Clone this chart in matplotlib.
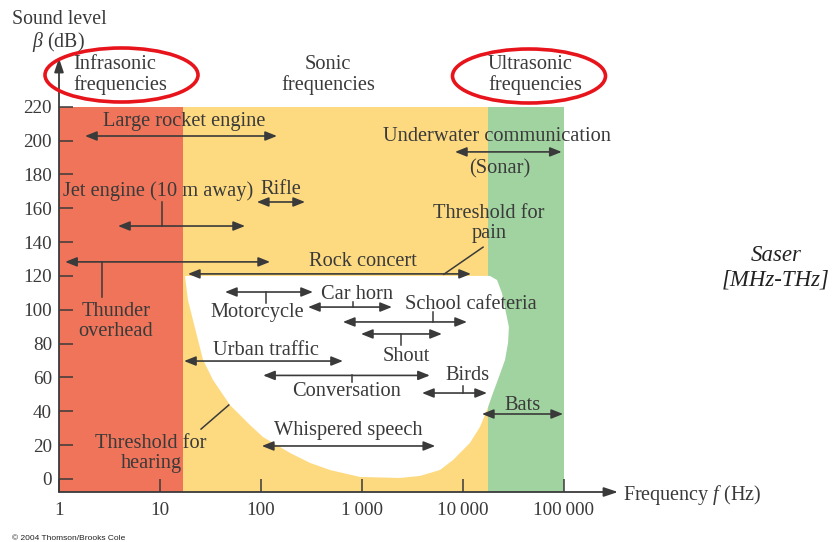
import matplotlib
matplotlib.use('Agg')
import matplotlib.pyplot as plt
from matplotlib.patches import Ellipse

plt.rcParams['font.family'] = ['Liberation Serif', 'DejaVu Serif']
plt.rcParams['mathtext.fontset'] = 'custom'
plt.rcParams['mathtext.rm'] = 'Liberation Serif'
plt.rcParams['mathtext.it'] = 'Liberation Serif:italic'

# frequency bands (Hz) and their colours
band_edges = [1, 17, 17700, 100000]
band_colors = ['#ef7459', '#fdda80', '#a1d3a1']
band_top = 220

# audible area: threshold of hearing (lower) and threshold of pain (top)
aud_f = [17.7, 18.9, 21.2, 26.7, 33.5, 49.3, 77.8, 104.7, 193.6, 306, 482, 955, 2377, 3750,
         5916, 7962, 11720, 14720, 17300, 19820, 22700, 26060, 27930, 28510, 24320, 21730, 18490]
aud_db = [120, 105.8, 94.0, 70.3, 58.5, 43.7, 31.9, 24.8, 15.4, 9.5, 5.3, 1.2, 0.6, 1.8,
          5.3, 11.2, 21.3, 30.7, 40.8, 50.8, 60.3, 70.3, 80.4, 89.8, 109.9, 117.6, 120]

# sources: frequency range (Hz) and sound level (dB)
src_names = ['Large rocket engine', 'Jet engine', 'Rifle', 'Thunder overhead', 'Rock concert',
             'Underwater communication', 'Motorcycle', 'Car horn', 'School cafeteria', 'Shout',
             'Urban traffic', 'Conversation', 'Birds', 'Bats', 'Whispered speech']
src_lo = [1.81, 3.84, 91, 1.15, 18.9, 8330, 44, 292, 647, 977, 17.3, 105, 3930, 15400, 102]
src_hi = [144, 69.5, 273, 123, 12000, 95000, 327, 1980, 10960, 6190, 648, 4700, 17300, 98000, 5310]
src_db = [202.7, 149.5, 163.7, 128.3, 121.2, 193.3, 110.5, 101.6, 92.8, 85.7, 69.7, 61.2, 50.8, 38.4, 19.5]

# little vertical stems from an arrow to its label: (freq, from dB, to dB)
stems = [(10.5, 149.5, 163.7), (2.67, 128.3, 107.6), (112, 110.5, 104), (815, 101.6, 104.6),
         (5040, 92.8, 98.7), (2430, 85.7, 79), (795, 61.2, 57.3), (10000, 50.8, 55)]

# labels inside the chart (text, freq, dB)
labels = [
    ('Large rocket engine', 17.5, 211),
    ('Jet engine (10 m away)', 9.67, 169.9),
    ('Rifle', 158, 171.1),
    ('Thunder\noverhead', 3.67, 93.1),
    ('Rock concert', 1011, 128.8),
    ('Threshold for\npain', 18100, 151),
    ('Underwater communication', 21960, 202.4),
    ('(Sonar)', 23240, 183.2),
    ('Motorcycle', 92.3, 98.4),
    ('Car horn', 892, 109),
    ('School cafeteria', 11870, 103.1),
    ('Shout', 2728, 72.4),
    ('Urban traffic', 111, 75.9),
    ('Conversation', 703, 51.7),
    ('Birds', 11090, 61.2),
    ('Bats', 39270, 43.4),
    ('Whispered speech', 727, 28.7),
    ('Threshold for\nhearing', 8.15, 15.1),
]

# pointer lines for the two thresholds
pain_line = ([15800, 6470], [137, 121])
hearing_line = ([25.5, 48], [29.5, 43.7])

xticks = [1, 10, 100, 1000, 10000, 100000]
xtick_labels = ['1', '10', '100', '1\u2009000', '10\u2009000', '100\u2009000']
yticks = list(range(0, 221, 20))

ink = '#3a3a3a'
W, H = 832, 542
fs = 14.7

fig = plt.figure(figsize=(W / 100, H / 100), dpi=100)
ax = fig.add_axes([59 / W, 1 - 492 / H, (618 - 59) / W, (492 - 58) / H])
ax.set_xscale('log')
ax.set_xlim(1, 10 ** 5.535)
ax.set_ylim(-7.7, 248.8)

ylo = ax.get_ylim()[0]
for i in range(len(band_colors)):
    ax.fill_between([band_edges[i], band_edges[i + 1]], ylo, band_top,
                    color=band_colors[i], lw=0, zorder=1)
ax.fill(aud_f, aud_db, color='white', lw=0, zorder=2)

arrow_kw = dict(arrowstyle='<|-|>,head_length=0.5,head_width=0.2', color=ink, lw=1.2,
                shrinkA=0, shrinkB=0, mutation_scale=14)
for lo, hi, db in zip(src_lo, src_hi, src_db):
    ax.annotate('', xy=(hi, db), xytext=(lo, db), arrowprops=arrow_kw, zorder=4)
for f, d0, d1 in stems:
    ax.plot([f, f], [d0, d1], color=ink, lw=1.1, zorder=4)
ax.plot(*pain_line, color=ink, lw=1.1, zorder=4)
ax.plot(*hearing_line, color=ink, lw=1.1, zorder=4)

for txt, f, db in labels:
    ax.text(f, db, txt, ha='center', va='center', fontsize=fs, color=ink,
            linespacing=1.12, zorder=5)

# axes drawn as arrows
for s in ax.spines.values():
    s.set_visible(False)
ax.annotate('', xy=(1, 0), xytext=(0, 0), xycoords='axes fraction',
            arrowprops=dict(arrowstyle='-|>,head_length=0.6,head_width=0.2', color=ink,
                            lw=1.3, shrinkA=0, shrinkB=0, mutation_scale=14))
ax.annotate('', xy=(0, 1), xytext=(0, 0), xycoords='axes fraction',
            arrowprops=dict(arrowstyle='-|>,head_length=0.6,head_width=0.2', color=ink,
                            lw=1.3, shrinkA=0, shrinkB=0, mutation_scale=14))

ax.set_xticks(xticks)
ax.set_xticklabels(xtick_labels)
ax.xaxis.set_minor_locator(matplotlib.ticker.NullLocator())
ax.set_yticks(yticks)
ax.tick_params(axis='x', direction='in', length=9.5, width=1.1, color=ink,
               labelsize=13.8, labelcolor=ink, pad=7)
ax.tick_params(axis='y', direction='in', length=10, width=1.1, color=ink,
               labelsize=13.8, labelcolor=ink, pad=5)
for t in ax.xaxis.get_major_ticks():
    t.tick1line.set_zorder(6)

def fx(px):
    return px / W

def fy(py):
    return 1 - py / H

fig.text(fx(12), fy(20), 'Sound level', ha='left', va='center', fontsize=14.3, color=ink)
fig.text(fx(32), fy(41.5), r'$\beta$ (dB)', ha='left', va='center', fontsize=14.3, color=ink)
fig.text(fx(73), fy(75), 'Infrasonic\nfrequencies', ha='left', va='center', fontsize=fs,
         color=ink, linespacing=1.12)
fig.text(fx(328), fy(75), 'Sonic\nfrequencies', ha='center', va='center', fontsize=fs,
         color=ink, linespacing=1.12)
fig.text(fx(488), fy(75), 'Ultrasonic\nfrequencies', ha='left', va='center', fontsize=fs,
         color=ink, linespacing=1.12)
fig.text(fx(776), fy(268), 'Saser\n[MHz-THz]', ha='center', va='center', fontsize=16.5,
         style='italic', color='#222222', linespacing=1.2)
fig.text(fx(623), fy(495), r'Frequency $f$ (Hz)', ha='left', va='center', fontsize=14.5, color=ink)
fig.text(fx(12), fy(538), '\u00a9 2004 Thomson/Brooks Cole', ha='left', va='center',
         fontsize=6, family='Liberation Sans', color='#222222')

for cx, cy in [(121.5, 75), (529, 76)]:
    fig.add_artist(Ellipse((fx(cx), fy(cy)), 153 / W, 54 / H, transform=fig.transFigure,
                           fill=False, ec='#e8141c', lw=2.6))

fig.savefig('out.png', dpi=100)
